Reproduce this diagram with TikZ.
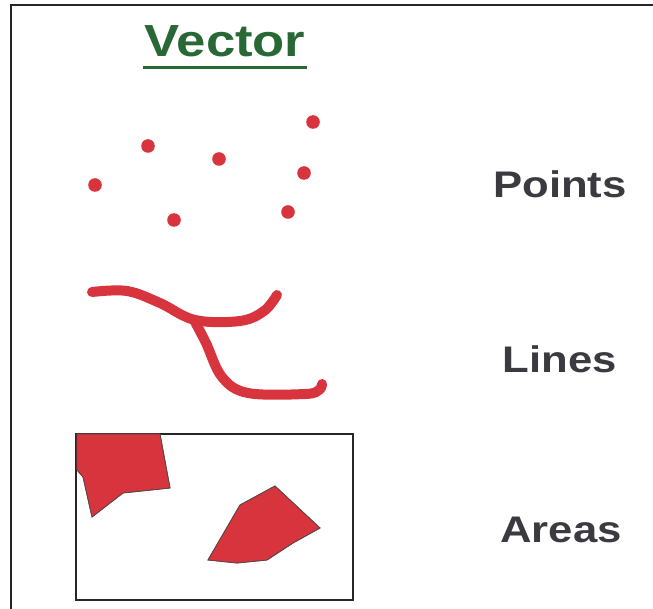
\documentclass[tikz,border=0pt]{standalone}
\usepackage{tikz}
\usepackage{xcolor}
\usepackage{graphicx}
\usepackage{fontspec}
\setmainfont{Liberation Sans}
\definecolor{vecred}{RGB}{216,52,62}
\definecolor{vecgreen}{RGB}{40,104,52}
\definecolor{txtgray}{RGB}{58,58,64}

\begin{document}
\begin{tikzpicture}[x=1pt,y=-1pt,
  lbl/.style={anchor=base,text=txtgray,font=\bfseries\fontsize{37}{37}\selectfont,inner sep=0pt}]
\useasboundingbox (0,0) rectangle (653,609);
\draw[line width=1.6pt,black!85](11,615)--(11,5)--(660,5);
% title
\node[anchor=base,text=vecgreen,font=\bfseries\fontsize{45}{45}\selectfont,inner sep=0pt] (title) at (225,57) {\scalebox{1.17}[1]{Vector}};
\draw[line width=3pt,vecgreen](143,68)--(307,68);
% points
\foreach \px/\py in {95/185,148/146,219/159,313/122,304/173,174/220,288/212}{
  \fill[vecred](\px,\py) circle (6.8);}
% lines
\draw[line width=10pt,vecred,line cap=round,line join=round]
  plot[smooth,tension=0.6] coordinates {(92,292)(127,291)(160,303)(195,320)(240,321)(264,311)(277,295)};
\draw[line width=10pt,vecred,line cap=round,line join=round]
  plot[smooth,tension=0.6] coordinates {(194,320)(206,343)(222,377)(248,393)(305,394)(319,390)(322,384)};
% areas
\draw[line width=1.6pt,black!85](76,434) rectangle (353,600);
\draw[vecred!90!black,fill=vecred,line width=0.8pt]
  (77,434)--(160,434)--(170,488)--(123,493)--(92,517)--(83,477)--(77,470)--cycle;
\draw[vecred!90!black,fill=vecred,line width=0.8pt]
  (240,505)--(275,486)--(320,528)--(293,543)--(267,560)--(237,563)--(208,560)--cycle;
\draw[black!70,line width=0.8pt](77,434)--(160,434)--(170,488)--(123,493)--(92,517)--(83,477)--(77,470);
\draw[black!70,line width=0.8pt](240,505)--(275,486)--(320,528)--(293,543)--(267,560)--(237,563)--(208,560)--cycle;
% labels
\node[lbl] (points) at (560,198) {\scalebox{1.18}[1]{Points}};
\node[lbl] (lines) at (560,372) {\scalebox{1.18}[1]{Lines}};
\node[lbl] (areas) at (561,542) {\scalebox{1.18}[1]{Areas}};
\end{tikzpicture}
\end{document}
